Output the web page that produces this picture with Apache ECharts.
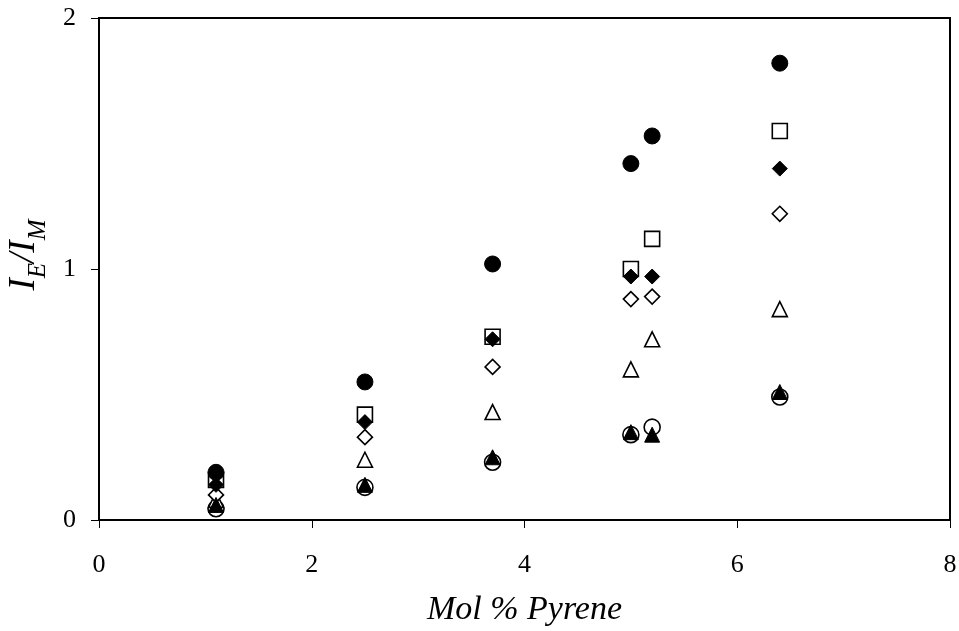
<!DOCTYPE html>
<html>
<head>
<meta charset="UTF-8">
<title>IE/IM vs Mol % Pyrene</title>
<script src="https://cdn.jsdelivr.net/npm/echarts@6/dist/echarts.min.js"></script>
<style>
  html, body { margin: 0; padding: 0; background: #fff; }
  #chart { width: 959px; height: 631px; }
</style>
</head>
<body>
<div id="chart"></div>
<script>
// mol % pyrene for every series
const molPyrene = [1.1, 2.5, 3.7, 5.0, 5.2, 6.4];

// IE/IM, one array per marker type
const filledCircle   = [0.19, 0.55, 1.02, 1.42, 1.53, 1.82];
const openSquare     = [0.16, 0.42, 0.73, 1.00, 1.12, 1.55];
const filledDiamond  = [0.14, 0.39, 0.72, 0.97, 0.97, 1.40];
const openDiamond    = [0.10, 0.33, 0.61, 0.88, 0.89, 1.22];
const openTriangle   = [0.08, 0.24, 0.43, 0.60, 0.72, 0.84];
const filledTriangle = [0.06, 0.14, 0.25, 0.35, 0.34, 0.51];
const openCircle     = [0.045, 0.13, 0.23, 0.34, 0.37, 0.49];

const font = '"Liberation Serif", "DejaVu Serif", serif';

function pts(ys) {
  return molPyrene.map((x, i) => [x, ys[i]]);
}

function scatter(name, ys, symbol, size, filled) {
  return {
    name: name,
    type: 'scatter',
    data: pts(ys),
    symbol: symbol,
    symbolSize: size,
    itemStyle: filled
      ? { color: '#000', borderColor: '#000', borderWidth: 1, opacity: 1 }
      : { color: '#fff', borderColor: '#000', borderWidth: 1.6, opacity: 1 },
    emphasis: { disabled: true }
  };
}

const chart = echarts.init(document.getElementById('chart'));
chart.setOption({
  animation: false,
  grid: {
    left: 99, right: 9, top: 18, bottom: 111,
    outerBoundsMode: 'none',
    show: true, borderColor: '#000', borderWidth: 2
  },
  xAxis: {
    type: 'value', min: 0, max: 8, interval: 2,
    splitLine: { show: false },
    axisLine: { lineStyle: { color: '#000', width: 2 } },
    axisTick: { length: 8, lineStyle: { color: '#000', width: 1 } },
    axisLabel: { color: '#000', fontFamily: font, fontSize: 26, margin: 32 },
    name: 'Mol % Pyrene',
    nameLocation: 'middle',
    nameGap: 73,
    nameTextStyle: { color: '#000', fontFamily: font, fontSize: 34, fontStyle: 'italic' }
  },
  yAxis: {
    type: 'value', min: 0, max: 2, interval: 1,
    splitLine: { show: false },
    axisLine: { lineStyle: { color: '#000', width: 2 } },
    axisTick: { length: 8, lineStyle: { color: '#000', width: 1 } },
    axisLabel: { color: '#000', fontFamily: font, fontSize: 26, margin: 23 },
    name: '{i|I}{s|E}{i|/I}{s|M}',
    nameLocation: 'middle',
    nameRotate: 90,
    nameGap: 56,
    nameTextStyle: {
      color: '#000', fontFamily: font,
      padding: [0, 0, 0, 28],
      rich: {
        i: { fontFamily: font, fontSize: 37, fontStyle: 'italic', color: '#000', lineHeight: 42, verticalAlign: 'bottom' },
        s: { fontFamily: font, fontSize: 25, fontStyle: 'italic', color: '#000', lineHeight: 42, verticalAlign: 'bottom', padding: [0, 0, -8, 0] }
      }
    }
  },
  series: [
    scatter('open circle', openCircle, 'circle', 16, false),
    scatter('open square', openSquare, 'rect', 15, false),
    scatter('open triangle', openTriangle, 'triangle', 15, false),
    scatter('open diamond', openDiamond, 'diamond', 15, false),
    scatter('filled triangle', filledTriangle, 'triangle', 15, true),
    scatter('filled diamond', filledDiamond, 'diamond', 15, true),
    scatter('filled circle', filledCircle, 'circle', 16, true)
  ]
});
</script>
</body>
</html>
